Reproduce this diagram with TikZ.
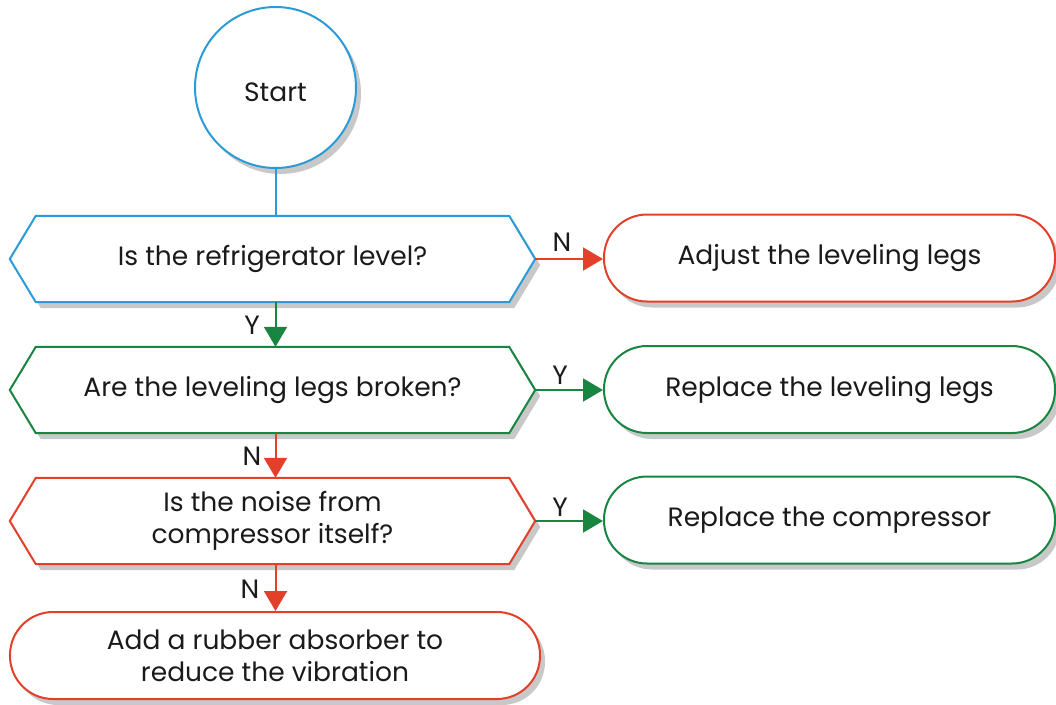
\documentclass[tikz,border=0pt]{standalone}
\usepackage{fontspec}
\setmainfont{Poppins}
\usetikzlibrary{arrows.meta,shadows,calc,backgrounds}
\definecolor{cblue}{HTML}{2B9BD8}
\definecolor{cred}{HTML}{E3402A}
\definecolor{cgreen}{HTML}{188540}
\definecolor{shadowgray}{HTML}{C8C8C8}
\definecolor{txt}{HTML}{1A1A1A}
\newcommand{\hexout}[2]{%
  \begin{scope}[on background layer]
  \draw[shad,line width=2pt,draw=#2,fill=white,line join=miter]
    (#1.north west) -- (#1.north east) -- ($(#1.east)+(26,0)$) coordinate (#1e)
    -- (#1.south east) -- (#1.south west) -- ($(#1.west)+(-26,0)$) -- cycle;
  \end{scope}}
\begin{document}
\begin{tikzpicture}[x=1pt,y=-1pt,
  every node/.style={font=\fontsize{26.5}{32}\selectfont, text=txt},
  shad/.style={drop shadow={shadow xshift=5pt,shadow yshift=-6pt,fill=shadowgray,opacity=1}},
  hexbox/.style={minimum width=473pt,minimum height=86pt,inner sep=0pt,align=center},
  pill/.style={draw,line width=2pt,fill=white,rounded corners=43pt,minimum height=87pt,inner sep=0pt,align=center,shad},
  conn/.style={line width=2pt,-{Triangle[length=20pt,width=23pt]}},
  lbl/.style={inner sep=0pt}
]
\useasboundingbox (0,0) rectangle (1056,704);
% start
\node[circle,draw=cblue,line width=2pt,fill=white,minimum size=161pt,shad] (start) at (275.5,87.5) {\raisebox{0pt}[\dimexpr\height+10pt][\depth]{Start}};
% decisions
\node[hexbox] (h1) at (272.5,259) {Is the refrigerator level?};
\hexout{h1}{cblue}
\node[hexbox] (h2) at (272.5,390) {Are the leveling legs broken?};
\hexout{h2}{cgreen}
\node[hexbox] (h3) at (272.5,521) {Is the noise from\\compressor itself?};
\hexout{h3}{cred}
% actions
\node[pill,draw=cred,minimum width=451pt] (r1) at (829.5,258) {Adjust the leveling legs};
\node[pill,draw=cgreen,minimum width=451pt] (r2) at (829.5,389.5) {Replace the leveling legs};
\node[pill,draw=cgreen,minimum width=451pt] (r3) at (829.5,520) {Replace the compressor};
\node[pill,draw=cred,minimum width=530pt] (r4) at (275,655.5) {Add a rubber absorber to\\reduce the vibration};
% connectors
\draw[line width=2pt,cblue] (start.south) -- (start.south |- h1.north);
\draw[conn,cred] (h1e) -- (h1e -| r1.west);
\draw[conn,cgreen] (h2e) -- (h2e -| r2.west);
\draw[conn,cgreen] (h3e) -- (h3e -| r3.west);
\draw[conn,cgreen] (start.south |- h1.south) -- (start.south |- h2.north);
\draw[conn,cred] (start.south |- h2.south) -- (start.south |- h3.north);
\draw[conn,cred] (start.south |- h3.south) -- (start.south |- r4.north);
% labels
\node[lbl] (l1) at (562,242) {N};
\node[lbl] (l2) at (560,375) {Y};
\node[lbl] (l3) at (560,507) {Y};
\node[lbl] (l4) at (252,325) {Y};
\node[lbl] (l5) at (252,456) {N};
\node[lbl] (l6) at (250,589) {N};
\end{tikzpicture}
\end{document}
